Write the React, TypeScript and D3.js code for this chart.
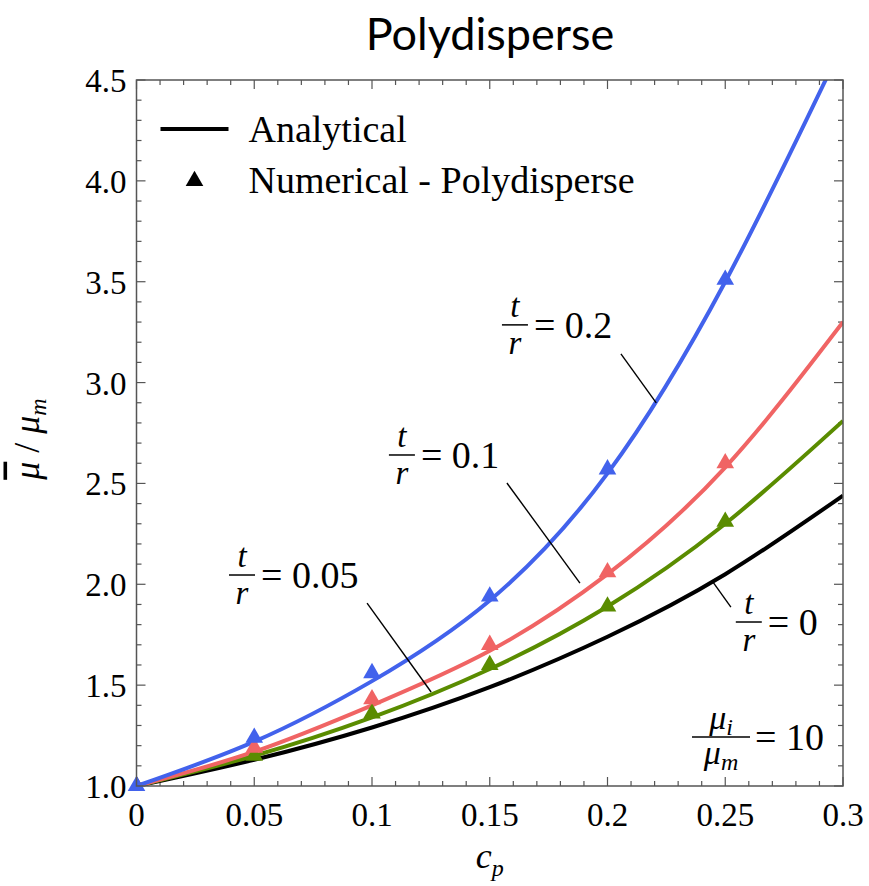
import React from 'react';
import * as d3 from 'd3';

// c_p sample points
const curveX = [0, 0.05, 0.1, 0.15, 0.2, 0.25, 0.3];
const analytical0 = [1.0, 1.13, 1.29, 1.49, 1.74, 2.05, 2.44];
const analytical005 = [1.0, 1.15, 1.34, 1.58, 1.89, 2.3, 2.81];
const analytical01 = [1.0, 1.17, 1.4, 1.67, 2.05, 2.58, 3.3];
const analytical02 = [1.0, 1.22, 1.52, 1.92, 2.55, 3.5, 4.68];

// numerical (triangles)
const numX = [0, 0.05, 0.1, 0.15, 0.2, 0.25];
const num005 = [1.0, 1.15, 1.36, 1.6, 1.89, 2.31];
const num01 = [1.0, 1.19, 1.43, 1.7, 2.06, 2.6];
const num02 = [1.0, 1.24, 1.56, 1.94, 2.57, 3.51];

const xTicks = [0, 0.05, 0.1, 0.15, 0.2, 0.25, 0.3];
const xTickLabels = ['0', '0.05', '0.1', '0.15', '0.2', '0.25', '0.3'];
const yTicks = [1.0, 1.5, 2.0, 2.5, 3.0, 3.5, 4.0, 4.5];
const yTickLabels = ['1.0', '1.5', '2.0', '2.5', '3.0', '3.5', '4.0', '4.5'];

const colors = { black: '#000000', green: '#5a8c00', red: '#f06464', blue: '#4262ec' };

const series = [
  { name: '0', color: colors.black, y: analytical0, num: null as number[] | null },
  { name: '0.05', color: colors.green, y: analytical005, num: num005 },
  { name: '0.1', color: colors.red, y: analytical01, num: num01 },
  { name: '0.2', color: colors.blue, y: analytical02, num: num02 },
];

// annotation labels: fraction bar centre and pointer (data units)
const notes = [
  { value: '0.2', at: [0.1607, 3.286], from: [0.2057, 3.142], to: [0.2207, 2.899] },
  { value: '0.1', at: [0.1127, 2.641], from: [0.1573, 2.502], to: [0.1883, 2.006] },
  { value: '0.05', at: [0.0448, 2.046], from: [0.0979, 1.907], to: [0.1251, 1.466] },
  { value: '0', at: [0.26, 1.813], from: [0.2524, 1.887], to: [0.2448, 2.011] },
];

const W = 869;
const H = 886;
const margin = { top: 80, right: 26, bottom: 100, left: 136.5 };
const serif = "'Liberation Serif', Tinos, 'Times New Roman', 'DejaVu Serif', 'Noto Serif', serif";

export default function App() {
  const innerW = W - margin.left - margin.right;
  const innerH = H - margin.top - margin.bottom;

  const x = d3.scaleLinear().domain([0, 0.3]).range([0, innerW]);
  const y = d3.scaleLinear().domain([1, 4.5]).range([innerH, 0]);

  const line = d3
    .line<number>()
    .x((_, i) => x(curveX[i]))
    .y((d) => y(d))
    .curve(d3.curveNatural);

  const tri = d3.symbol().type(d3.symbolTriangle).size(135)();

  const xMinor = d3.range(0, 0.3001, 0.01);
  const yMinor = d3.range(1, 4.5001, 0.1);

  const frac = (cx: number, cy: number, num: React.ReactNode, den: React.ReactNode, value: string, barW = 26) => (
    <g style={{ fontFamily: serif }} fontSize={33}>
      <text x={cx} y={cy - 8} textAnchor="middle" fontStyle="italic">{num}</text>
      <line x1={cx - barW / 2} x2={cx + barW / 2} y1={cy} y2={cy} stroke="#000" strokeWidth={1.5} />
      <text x={cx} y={cy + 29} textAnchor="middle" fontStyle="italic">{den}</text>
      <text x={cx + barW / 2 + 6} y={cy + 13} fontSize={38}>{'= ' + value}</text>
    </g>
  );

  return (
    <svg width={W} height={H} style={{ position: 'absolute', left: 0, top: 0, background: '#fff' }}>
      <text x={490} y={50} textAnchor="middle" style={{ fontFamily: "Lato, 'Open Sans', sans-serif" }} fontSize={45}>
        Polydisperse
      </text>
      <g transform={`translate(${margin.left},${margin.top})`}>
        <defs>
          <clipPath id="plot">
            <rect x={0} y={0} width={innerW} height={innerH} />
          </clipPath>
        </defs>

        {/* minor + major ticks, all four sides, pointing inward */}
        <g stroke="#555" strokeWidth={1.2}>
          {xMinor.map((t, i) => {
            const len = i % 5 === 0 ? 9 : 5;
            return (
              <g key={'xt' + i}>
                <line x1={x(t)} x2={x(t)} y1={innerH} y2={innerH - len} />
                <line x1={x(t)} x2={x(t)} y1={0} y2={len} />
              </g>
            );
          })}
          {yMinor.map((t, i) => {
            const len = i % 5 === 0 ? 9 : 5;
            return (
              <g key={'yt' + i}>
                <line x1={0} x2={len} y1={y(t)} y2={y(t)} />
                <line x1={innerW} x2={innerW - len} y1={y(t)} y2={y(t)} />
              </g>
            );
          })}
        </g>

        <g clipPath="url(#plot)">
          {series.map((s) => (
            <path key={s.name} d={line(s.y) || ''} fill="none" stroke={s.color} strokeWidth={4} />
          ))}
          {series.map((s) =>
            s.num
              ? s.num.map((v, i) => (
                  <path key={s.name + i} d={tri || ''} transform={`translate(${x(numX[i])},${y(v)})`} fill={s.color} />
                ))
              : null
          )}
        </g>
        {/* triangle sitting on the origin spills over the frame */}
        <path d={tri || ''} transform={`translate(${x(0)},${y(1)})`} fill={colors.blue} />

        <rect x={0} y={0} width={innerW} height={innerH} fill="none" stroke="#555" strokeWidth={1.5} />

        {/* tick labels */}
        <g style={{ fontFamily: serif }} fontSize={33} fill="#000">
          {xTicks.map((t, i) => (
            <text key={'xl' + i} x={x(t)} y={innerH + 40} textAnchor="middle">
              {xTickLabels[i]}
            </text>
          ))}
          {yTicks.map((t, i) => (
            <text key={'yl' + i} x={-10} y={y(t) + 12} textAnchor="end">
              {yTickLabels[i]}
            </text>
          ))}
        </g>

        {/* axis titles */}
        <text x={x(0.15)} y={innerH + 82} textAnchor="middle" style={{ fontFamily: serif }} fontSize={36} fontStyle="italic">
          c<tspan fontSize={24} dy={8}>p</tspan>
        </text>
        <text
          transform={`translate(${-98},${y(2.72)}) rotate(-90)`}
          textAnchor="middle"
          style={{ fontFamily: serif }}
          fontSize={36}
          fontStyle="italic"
        >
          <tspan textDecoration="overline">μ</tspan>
          <tspan fontStyle="normal"> / </tspan>
          μ<tspan fontSize={24} dy={7}>m</tspan>
        </text>

        {/* legend */}
        <line x1={24} x2={92} y1={49} y2={49} stroke="#000" strokeWidth={4} />
        <text x={112} y={62} style={{ fontFamily: serif }} fontSize={38}>Analytical</text>
        <path d={tri || ''} transform={`translate(${58},${101})`} fill="#000" />
        <text x={112} y={113} style={{ fontFamily: serif }} fontSize={38}>Numerical - Polydisperse</text>

        {/* curve annotations */}
        {notes.map((n) => (
          <g key={'n' + n.value}>
            {frac(x(n.at[0]), y(n.at[1]), 't', 'r', n.value)}
            <line x1={x(n.from[0])} y1={y(n.from[1])} x2={x(n.to[0])} y2={y(n.to[1])} stroke="#000" strokeWidth={1.4} />
          </g>
        ))}

        {/* mu_i / mu_m = 10 */}
        <g style={{ fontFamily: serif }} fontSize={34}>
          <text x={x(0.2482)} y={y(1.243) - 8} textAnchor="middle" fontStyle="italic">
            μ<tspan fontSize={24} dy={6}>i</tspan>
          </text>
          <line x1={x(0.2482) - 29} x2={x(0.2482) + 29} y1={y(1.243)} y2={y(1.243)} stroke="#000" strokeWidth={1.5} />
          <text x={x(0.2482)} y={y(1.243) + 27} textAnchor="middle" fontStyle="italic">
            μ<tspan fontSize={24} dy={6}>m</tspan>
          </text>
          <text x={x(0.2482) + 34} y={y(1.243) + 13} fontSize={38}>= 10</text>
        </g>
      </g>
    </svg>
  );
}
